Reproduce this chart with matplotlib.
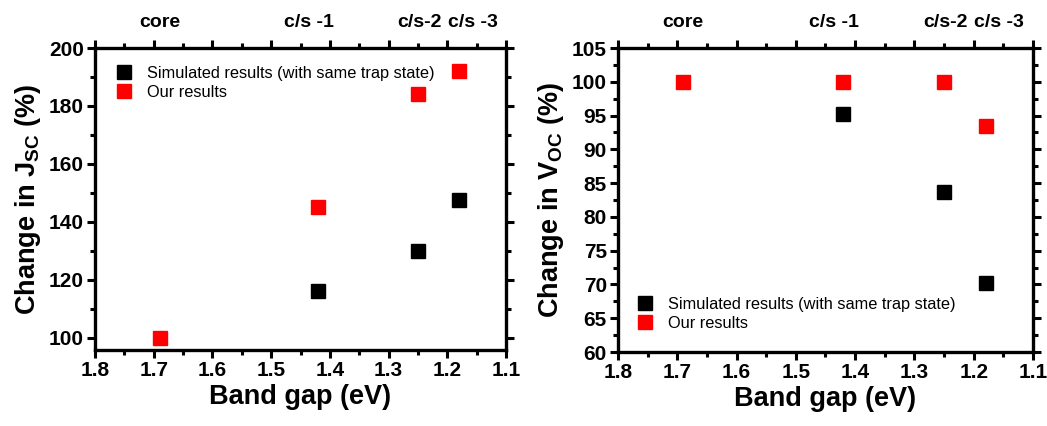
import matplotlib
matplotlib.use("Agg")
import matplotlib.pyplot as plt
from matplotlib.ticker import MultipleLocator

plt.rcParams['font.family'] = ['Liberation Sans', 'DejaVu Sans']
plt.rcParams['font.weight'] = 'bold'
plt.rcParams['mathtext.fontset'] = 'custom'
plt.rcParams['mathtext.rm'] = 'Liberation Sans:bold'
plt.rcParams['mathtext.it'] = 'Liberation Sans:bold'
plt.rcParams['mathtext.default'] = 'rm'

# ---- data ----
gap_sim = [1.42, 1.25, 1.18]
gap_our = [1.69, 1.42, 1.25, 1.18]

jsc_sim = [116, 130, 147.5]
jsc_our = [100, 145.3, 184.3, 192]

voc_sim = [95.3, 83.7, 70.2]
voc_our = [100, 100, 100, 93.5]

top_labels = ["core", "c/s -1", "c/s-2", "c/s -3"]
top_label_pos = [1.69, 1.435, 1.248, 1.157]

lbl_sim = "Simulated results (with same trap state)"
lbl_our = "Our results"


def style_axis(ax, ymin, ymax, ymajor, yminor):
    ax.set_xlim(1.8, 1.1)
    ax.set_ylim(ymin, ymax)
    ax.xaxis.set_major_locator(MultipleLocator(0.1))
    ax.xaxis.set_minor_locator(MultipleLocator(0.05))
    ax.yaxis.set_major_locator(MultipleLocator(ymajor))
    ax.yaxis.set_minor_locator(MultipleLocator(yminor))
    for s in ax.spines.values():
        s.set_linewidth(2.4)
    ax.tick_params(which='both', direction='out', top=True, right=True, width=2.2)
    ax.tick_params(which='major', length=6, labelsize=15, pad=2)
    ax.tick_params(which='minor', length=3.5)
    ax.tick_params(axis='x', labeltop=False)
    ax.set_xlabel("Band gap (eV)", fontsize=19.5, fontweight='bold', labelpad=3)
    for lab in ax.get_xticklabels() + ax.get_yticklabels():
        lab.set_fontweight('bold')
    for txt, xp in zip(top_labels, top_label_pos):
        ax.text(xp, 1.055, txt, transform=ax.get_xaxis_transform(),
                ha='center', va='bottom', fontsize=14, fontweight='bold')


fig = plt.figure(figsize=(10.47, 4.26), dpi=100)
ax1 = fig.add_axes([95 / 1047, 76 / 426, 411 / 1047, 302 / 426])
ax2 = fig.add_axes([618 / 1047, 74 / 426, 415 / 1047, 304 / 426])

# left panel: Jsc
ax1.plot(gap_sim, jsc_sim, 's', color='black', ms=10.5, label=lbl_sim, zorder=3)
ax1.plot(gap_our, jsc_our, 's', color='red', ms=10.5, label=lbl_our, zorder=3)
style_axis(ax1, 95.8, 200, 20, 10)
ax1.set_ylabel("Change in J$_{SC}$ (%)", fontsize=19.5, fontweight='bold', labelpad=4)
ax1.legend(loc='upper left', bbox_to_anchor=(-0.005, 0.99), frameon=False,
           handletextpad=0.4, labelspacing=0.25,
           prop={'weight': 'normal', 'size': 11.8})

# right panel: Voc
ax2.plot(gap_sim, voc_sim, 's', color='black', ms=10.5, label=lbl_sim, zorder=3)
ax2.plot(gap_our, voc_our, 's', color='red', ms=10.5, label=lbl_our, zorder=3)
style_axis(ax2, 60, 105, 5, 2.5)
ax2.set_ylabel("Change in V$_{OC}$ (%)", fontsize=19.5, fontweight='bold', labelpad=4)
ax2.legend(loc='lower left', bbox_to_anchor=(-0.01, 0.02), frameon=False,
           handletextpad=0.4, labelspacing=0.25,
           prop={'weight': 'normal', 'size': 11.8})

fig.savefig("out.png", dpi=100)
